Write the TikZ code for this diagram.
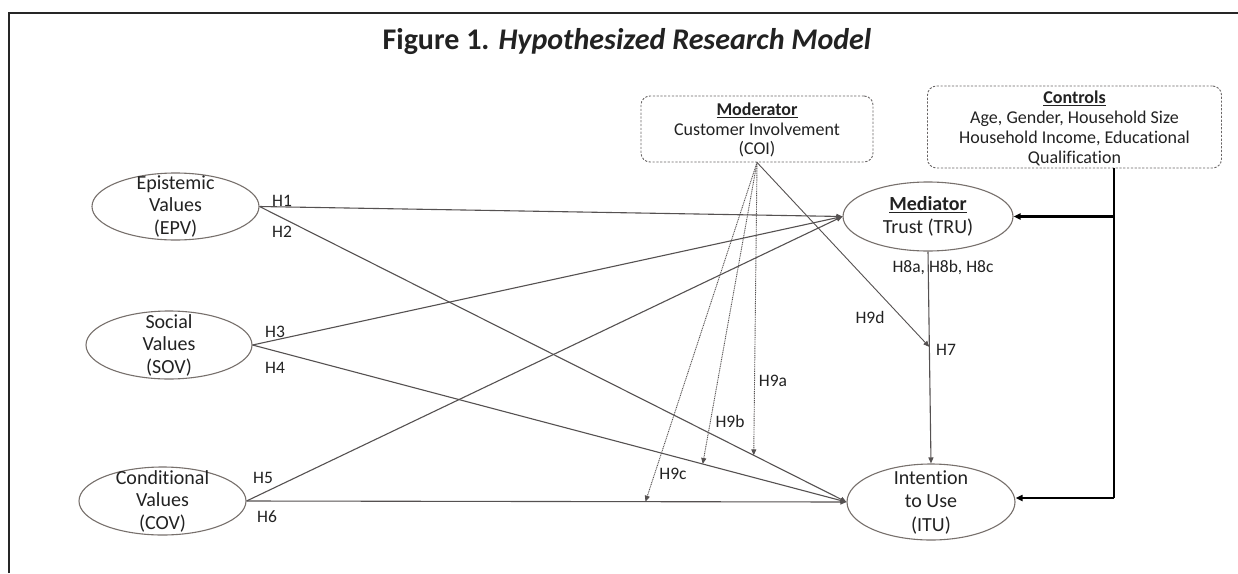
\documentclass[tikz,border=0pt]{standalone}
\usepackage{fontspec}
\setmainfont{Carlito}[Ligatures={NoCommon}]
\usetikzlibrary{shapes.geometric,arrows.meta}
\definecolor{ellc}{HTML}{77706C}
\definecolor{linec}{HTML}{555151}
\definecolor{boxc}{HTML}{6A6666}
\definecolor{txt}{HTML}{222222}
\begin{document}
\begin{tikzpicture}[x=1pt,y=-1pt,
  lat/.style={ellipse, draw=ellc, line width=1.1pt, inner sep=0pt},
  lattext/.style={align=center, text=txt, inner sep=0pt, font=\fontsize{20}{22.5}\selectfont},
  dbox/.style={draw=boxc, line width=0.9pt, dash pattern=on 2.2pt off 1.6pt, rounded corners=9pt, inner sep=0pt},
  boxtext/.style={align=center, text=txt, inner sep=0pt, font=\fontsize{18}{19.7}\selectfont},
  rel/.style={draw=linec, line width=1.1pt, -{Triangle[length=6pt,width=5pt]}},
  modrel/.style={draw=linec, line width=0.9pt, dash pattern=on 1pt off 0.8pt, -{Triangle[length=6pt,width=5pt]}},
  ctrl/.style={draw=black, line width=2.2pt},
  ctrlarr/.style={draw=black, line width=2.2pt, -{Triangle[length=7pt,width=6pt]}},
  hlab/.style={text=txt, inner sep=0pt, font=\fontsize{17.5}{19}\selectfont},
]
\useasboundingbox (0,0) rectangle (1238,573);
\fill[white] (0,0) rectangle (1238,573);
% frame
\coordinate (fbl) at (8.7,573);
\coordinate (ftl) at (8.7,12.7);
\coordinate (ftr) at (1238,12.7);
\draw[draw=black!85, line width=2.4pt] (fbl) -- (ftl) -- (ftr);
% title
\node[anchor=base, text=txt, inner sep=0pt, font=\fontsize{30}{34}\selectfont\bfseries] (title) at (627,49) {Figure 1. \textit{Hypothesized Research Model}};

% latent variables
\node[lat, minimum width=167pt, minimum height=67pt] (epv) at (175.5,206.5) {};
\node[lattext] (epvt) at (epv.center) {Epistemic\\Values\\(EPV)};
\node[lat, minimum width=166pt, minimum height=68pt] (sov) at (169,345) {};
\node[lattext] (sovt) at (sov.center) {Social\\Values\\(SOV)};
\node[lat, minimum width=167pt, minimum height=68pt] (cov) at (162.5,501) {};
\node[lattext] (covt) at (cov.center) {Conditional\\Values\\(COV)};
\node[lat, minimum width=170pt, minimum height=69pt] (tru) at (928,216.5) {};
\node[lattext] (trut) at (tru.center) {\underline{\textbf{Mediator}}\\Trust (TRU)};
\node[lat, minimum width=168pt, minimum height=76pt] (itu) at (931,502) {};
\node[lattext, font=\fontsize{20}{23.5}\selectfont] (itut) at (itu.center) {Intention\\to Use\\(ITU)};

% boxes
\node[dbox, minimum width=232pt, minimum height=66pt] (mod) at (757,129) {};
\node[boxtext] (modt) at (757,130) {\underline{\textbf{Moderator}}\\Customer Involvement\\(COI)};
\node[dbox, minimum width=294pt, minimum height=82pt] (ctl) at (1074.5,127) {};
\node[boxtext, font=\fontsize{18}{20}\selectfont] (ctlt) at (1074.5,128.5) {\underline{\textbf{Controls}}\\Age, Gender, Household Size\\Household Income, Educational\\Qualification};

% direct paths
\draw[rel] (epv.east) -- (tru.west);
\draw[rel] (epv.east) -- (itu.west);
\draw[rel] (sov.east) -- (tru.west);
\draw[rel] (sov.east) -- (itu.west);
\draw[rel] (cov.east) -- (tru.west);
\draw[rel] (cov.east) -- (itu.west);
\draw[rel] (tru.south) -- (itu.north);

% moderation targets
\path (epv.east) -- (itu.west) coordinate[pos=0.842] (h9a);
\path (sov.east) -- (itu.west) coordinate[pos=0.758] (h9b);
\path (cov.east) -- (itu.west) coordinate[pos=0.665] (h9c);
\path (tru.south) -- (itu.north) coordinate[pos=0.45] (h9d);
\draw[modrel] (mod.south) -- (h9a);
\draw[modrel] (mod.south) -- (h9b);
\draw[modrel] (mod.south) -- (h9c);
\draw[rel, line width=0.9pt] (mod.south) -- (h9d);

% controls
\coordinate (cdrop) at ([xshift=39.5pt]ctl.south);
\coordinate (cturn) at (cdrop |- 0,498);
\draw[ctrl] (cdrop) -- (cturn);
\draw[ctrlarr] (cturn) -- (cturn -| itu.east);
\draw[ctrlarr] (tru.east -| cdrop) -- (tru.east);

% labels
\node[hlab] (l1) at (282,200.5) {H1};
\node[hlab] (l2) at (282,232) {H2};
\node[hlab] (l3) at (275,332) {H3};
\node[hlab] (l4) at (275,368) {H4};
\node[hlab] (l5) at (263,478) {H5};
\node[hlab] (l6) at (267,517) {H6};
\node[hlab] (l8) at (943,268) {H8a, H8b, H8c};
\node[hlab] (l7) at (946,350) {H7};
\node[hlab] (l9d) at (870,317) {H9d};
\node[hlab] (l9a) at (773,381) {H9a};
\node[hlab] (l9b) at (730,421) {H9b};
\node[hlab] (l9c) at (673,474) {H9c};
\end{tikzpicture}
\end{document}
